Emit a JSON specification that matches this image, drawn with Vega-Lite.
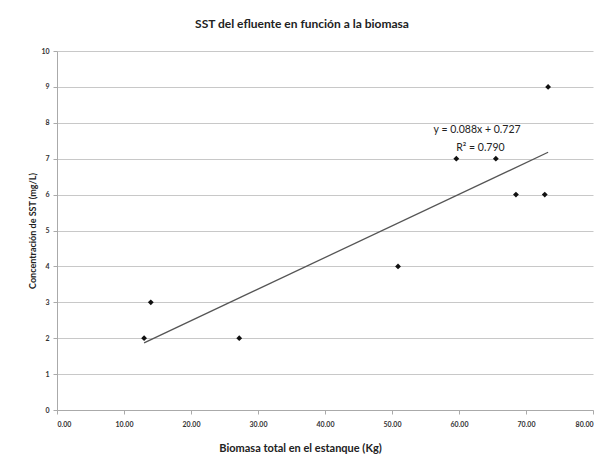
{
  "$schema": "https://vega.github.io/schema/vega-lite/v6.json",
  "autosize": "none",
  "width": 536,
  "height": 359,
  "padding": {"left": 57, "top": 51, "right": 16, "bottom": 53},
  "background": "white",
  "title": {
    "text": "SST  del efluente en función a la biomasa",
    "font": "Lato",
    "fontSize": 12,
    "fontWeight": "bold",
    "color": "#222222",
    "anchor": "middle",
    "dx": -23,
    "offset": 16
  },
  "config": {
    "view": {"stroke": null},
    "font": "Lato"
  },
  "datasets": {
    "points": [
      {"biomasa": 13.0, "sst": 2},
      {"biomasa": 14.0, "sst": 3},
      {"biomasa": 27.2, "sst": 2},
      {"biomasa": 50.9, "sst": 4},
      {"biomasa": 59.6, "sst": 7},
      {"biomasa": 65.5, "sst": 7},
      {"biomasa": 68.5, "sst": 6},
      {"biomasa": 72.8, "sst": 6},
      {"biomasa": 73.3, "sst": 9}
    ],
    "trend": [
      {"biomasa": 13.0, "sst": 1.87},
      {"biomasa": 73.3, "sst": 7.18}
    ],
    "labels": [
      {"biomasa": 62.7, "sst": 7.8, "label": "y = 0.088x + 0.727"},
      {"biomasa": 63.2, "sst": 7.3, "label": "R² = 0.790"}
    ]
  },
  "encoding": {
    "x": {
      "field": "biomasa", "type": "quantitative",
      "scale": {"domain": [0, 80], "nice": false},
      "axis": {
        "values": [0, 10, 20, 30, 40, 50, 60, 70, 80],
        "format": ".2f",
        "grid": false,
        "domainColor": "#aaaaaa",
        "tickColor": "#aaaaaa",
        "tickSize": 4,
        "labelFontSize": 7,
        "labelFontWeight": "bold",
        "labelColor": "#333333",
        "labelPadding": 6,
        "title": "Biomasa total en el estanque (Kg)",
        "titleFontSize": 11,
        "titleFontWeight": "bold",
        "titleColor": "#222222",
        "titlePadding": 15,
        "titleX": 243
      }
    },
    "y": {
      "field": "sst", "type": "quantitative",
      "scale": {"domain": [0, 10], "nice": false},
      "axis": {
        "tickCount": 11,
        "labelOverlap": false,
        "format": "d",
        "grid": true,
        "gridColor": "#c8c8c8",
        "gridWidth": 1,
        "domainColor": "#aaaaaa",
        "tickColor": "#aaaaaa",
        "tickSize": 4,
        "labelFontSize": 7,
        "labelFontWeight": "bold",
        "labelColor": "#333333",
        "labelPadding": 4,
        "title": "Concentración de SST (mg/L)",
        "titleFontSize": 9,
        "titleFontWeight": "bold",
        "titleColor": "#222222",
        "titlePadding": 3
      }
    }
  },
  "layer": [
    {
      "data": {"name": "trend"},
      "mark": {"type": "line", "color": "#555555", "strokeWidth": 1.3}
    },
    {
      "data": {"name": "points"},
      "mark": {"type": "point", "shape": "diamond", "filled": true, "color": "#111111", "size": 34, "opacity": 1}
    },
    {
      "data": {"name": "labels"},
      "mark": {"type": "text", "fontSize": 10.5, "color": "#222222", "align": "center", "baseline": "middle"},
      "encoding": {
        "text": {"field": "label"}
      }
    }
  ]
}
